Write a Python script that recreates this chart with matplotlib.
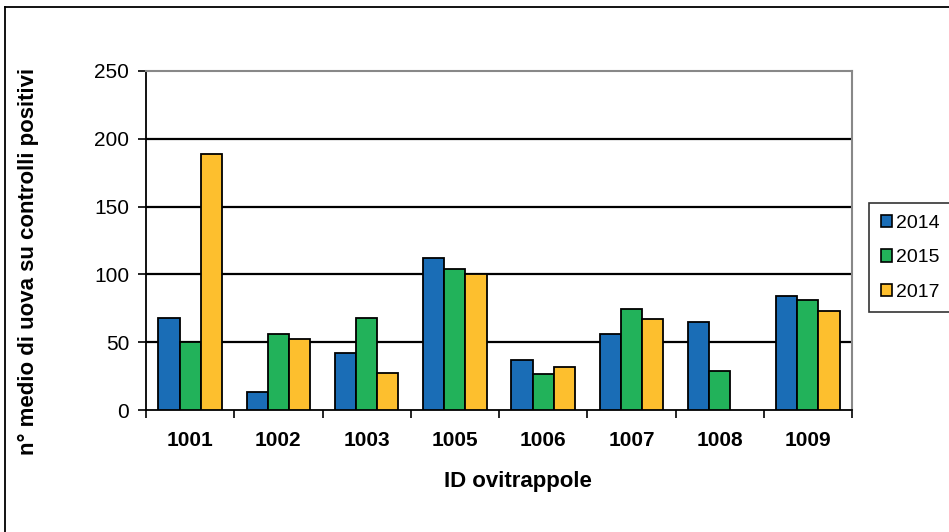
import matplotlib
matplotlib.use("Agg")
import matplotlib.pyplot as plt
import numpy as np
from matplotlib.lines import Line2D

categories = ["1001", "1002", "1003", "1005", "1006", "1007", "1008", "1009"]
series_names = ["2014", "2015", "2017"]
v2014 = [68, 13, 42, 112, 37, 56, 65, 84]
v2015 = [50, 56, 68, 104, 26.5, 74.5, 29, 81]
v2017 = [189, 52, 27, 100, 31.5, 67, 0, 73]
colors = ["#1a6db6", "#22b25a", "#fdbf2e"]
yticks = [0, 50, 100, 150, 200, 250]

plt.rcParams['font.family'] = ['Liberation Sans', 'DejaVu Sans']

fig = plt.figure(figsize=(9.49, 5.32), dpi=100)
ax = fig.add_axes([146/949, 1 - 410/532, (852-146)/949, (410-71)/532])

x = np.arange(len(categories))
w = 0.24
for i, (vals, name, c) in enumerate(zip([v2014, v2015, v2017], series_names, colors)):
    vv = np.array(vals, dtype=float)
    mask = vv > 0
    ax.bar(x[mask] + (i - 1) * w, vv[mask], width=w, color=c, edgecolor="black",
           linewidth=1.3, label=name, zorder=3)

ax.set_xlim(-0.5, len(categories) - 0.5)
ax.set_ylim(0, 250)
ax.set_yticks(yticks)
ax.set_yticklabels([str(t) for t in yticks], fontsize=15)
for t in yticks[1:-1]:
    ax.axhline(t, color="black", linewidth=1.6, zorder=1)

ax.set_xticks(x)
ax.set_xticklabels(categories, fontsize=15, fontweight="bold")
ax.tick_params(axis="x", length=0, pad=15)
ax.set_xticks(np.arange(len(categories) + 1) - 0.5, minor=True)
ax.tick_params(axis="x", which="minor", length=6, width=1.2, direction="out", color="black")
ax.tick_params(axis="y", length=6, width=1.2, direction="out", pad=6)

for s in ["top", "right"]:
    ax.spines[s].set_color("#888888")
    ax.spines[s].set_linewidth(1.5)
for s in ["left", "bottom"]:
    ax.spines[s].set_color("black")
    ax.spines[s].set_linewidth(1.3)

fig.text(518/949, 1 - 487/532, "ID ovitrappole", fontsize=16, fontweight="bold",
         ha="center", va="baseline")
fig.text(28/949, 1 - 261/532, "n° medio di uova su controlli positivi", fontsize=16,
         fontweight="bold", rotation=90, ha="center", va="center")

handles = [plt.Rectangle((0, 0), 1, 1, facecolor=c, edgecolor="black", linewidth=1.2) for c in colors]
leg = fig.legend(handles, series_names, loc="upper left", bbox_to_anchor=(869/949, 1 - 203/532),
                 fontsize=14, frameon=True, fancybox=False, edgecolor="black",
                 handlelength=0.6, handleheight=0.6, handletextpad=0.2, labelspacing=0.9,
                 borderpad=0.6, borderaxespad=0)
leg.get_frame().set_linewidth(1.2)

fig.add_artist(Line2D([5/949, 1], [1 - 7/532, 1 - 7/532], transform=fig.transFigure, color="black", linewidth=1.3))
fig.add_artist(Line2D([5/949, 5/949], [0, 1 - 7/532], transform=fig.transFigure, color="black", linewidth=1.3))

fig.savefig("out.png", dpi=100)
